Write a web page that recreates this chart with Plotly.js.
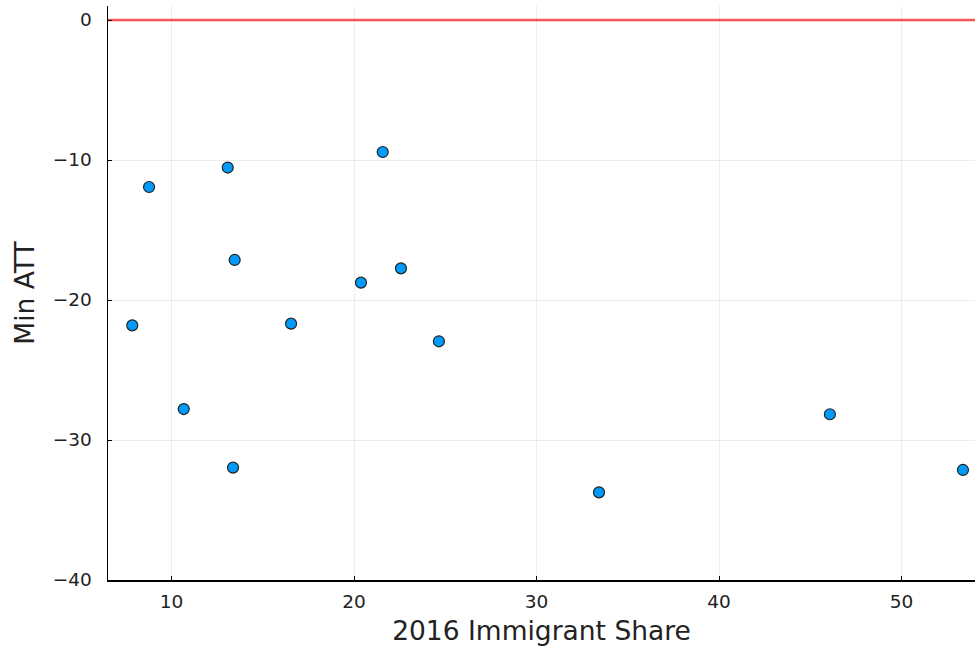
<!DOCTYPE html>
<html>
<head>
<meta charset="utf-8">
<script src="https://cdn.plot.ly/plotly-3.0.1.min.js"></script>
<style>html,body{margin:0;padding:0;background:#fff;}#chart{width:975px;height:650px;}</style>
</head>
<body>
<div id="chart"></div>
<script>
const immigrantShare = [7.85, 8.77, 10.67, 13.08, 13.37, 13.46, 16.55, 20.38, 21.57, 22.57, 24.65, 33.42, 46.07, 53.36];
const minATT = [-21.81, -11.93, -27.79, -10.54, -31.97, -17.14, -21.69, -18.76, -9.43, -17.74, -22.95, -33.74, -28.16, -32.14];
const hlineY = 0;
const xTicks = [10, 20, 30, 40, 50];
const yTicks = [-40, -30, -20, -10, 0];

const data = [{
  type: 'scatter', mode: 'markers',
  x: immigrantShare, y: minATT,
  marker: {color: '#009AFA', size: 11, line: {color: '#222', width: 1.2}},
  cliponaxis: false, showlegend: false, hoverinfo: 'x+y'
}];

const layout = {
  width: 975, height: 650,
  margin: {l: 108, r: 0, t: 6, b: 70},
  paper_bgcolor: '#fff', plot_bgcolor: '#fff',
  font: {family: 'DejaVu Sans, sans-serif', color: '#000'},
  showlegend: false,
  xaxis: {
    range: [6.52, 54.02], tickvals: xTicks, ticktext: xTicks.map(String),
    ticks: 'inside', ticklen: 4, tickwidth: 1, tickcolor: '#000',
    showline: true, linecolor: '#000', linewidth: 1.5, mirror: false,
    showgrid: true, gridcolor: 'rgba(0,0,0,0.07)', gridwidth: 1,
    zeroline: false, tickfont: {size: 18.5, color: '#222'}, ticklabelstandoff: 4,
    automargin: false,
    title: {text: '2016 Immigrant Share', font: {size: 26.5, color: '#222'}, standoff: 10}
  },
  yaxis: {
    range: [-40, 1], tickvals: yTicks, ticktext: yTicks.map(v => v < 0 ? '\u2212' + Math.abs(v) : String(v)),
    ticks: 'inside', ticklen: 4, tickwidth: 1, tickcolor: '#000',
    showline: true, linecolor: '#000', linewidth: 1.5, mirror: false,
    showgrid: true, gridcolor: 'rgba(0,0,0,0.07)', gridwidth: 1,
    zeroline: false, tickfont: {size: 18.5, color: '#222'}, ticklabelstandoff: 11,
    automargin: false,
    title: {text: 'Min ATT', font: {size: 26.5, color: '#222'}, standoff: 10}
  },
  shapes: [{
    type: 'line', xref: 'paper', x0: 0, x1: 1, yref: 'y', y0: hlineY, y1: hlineY,
    line: {color: 'rgba(255,60,60,0.85)', width: 2.5}, layer: 'below'
  }]
};

Plotly.newPlot('chart', data, layout, {displayModeBar: false, staticPlot: true});
</script>
</body>
</html>
